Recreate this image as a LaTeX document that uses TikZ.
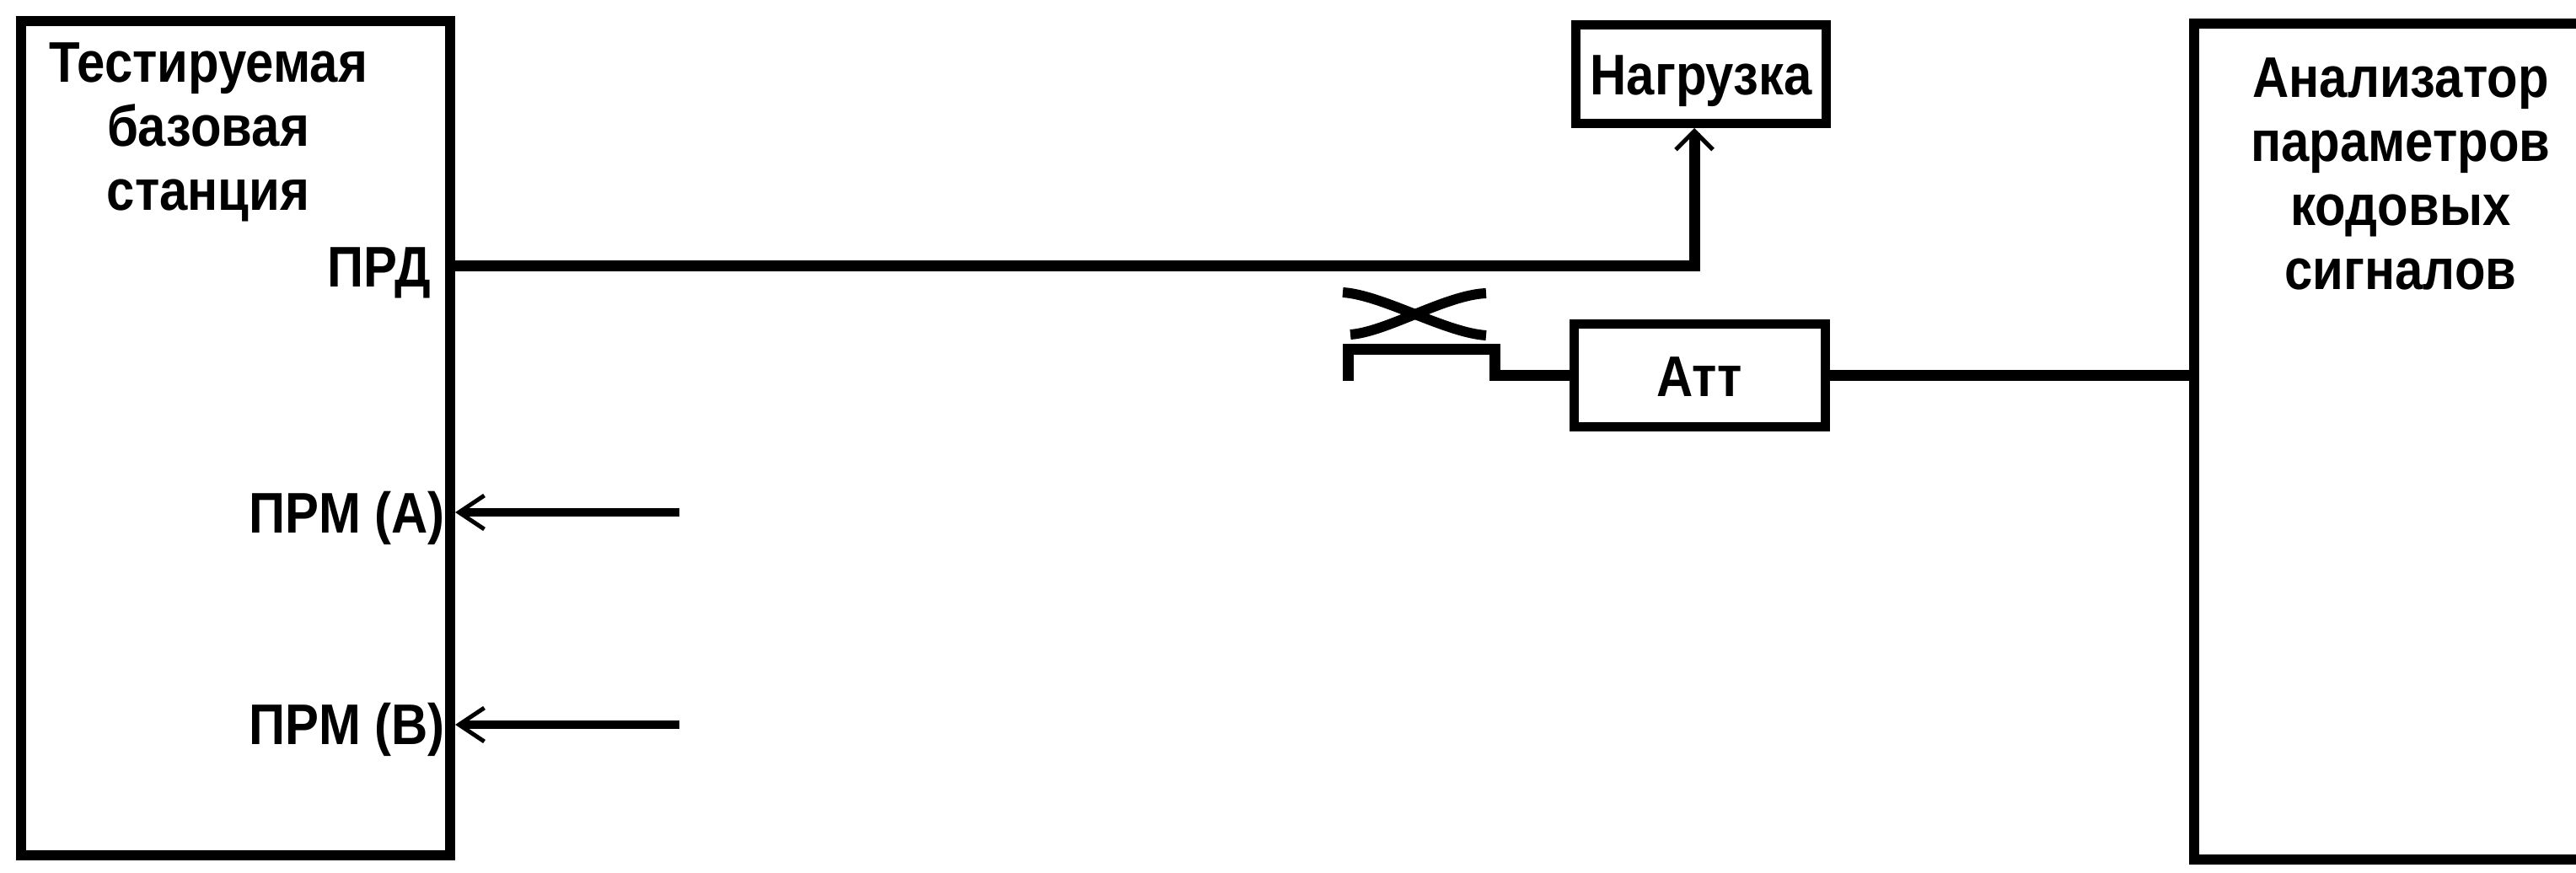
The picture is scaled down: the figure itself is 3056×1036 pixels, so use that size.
\documentclass[tikz,border=0pt]{standalone}
\usepackage{fontspec}
\setmainfont[FakeStretch=0.88]{Liberation Sans}
\usetikzlibrary{arrows.meta}
\begin{document}
\begin{tikzpicture}[x=0.5pt,y=-0.5pt,
  every node/.style={font=\bfseries\fontsize{34pt}{38pt}\selectfont, inner sep=0pt},
  blk/.style={draw, line width=6pt, rectangle},
  smallblk/.style={draw, line width=5.5pt, rectangle, text height=24.5pt, text depth=0pt},
  mainline/.style={line width=6.5pt},
  rxline/.style={line width=5pt, -{Straight Barb[length=15pt,width=20pt,line width=2.5pt]}},
  lbl/.style={align=center}
]
\fill[white] (0,0) rectangle (3056,1036);
\useasboundingbox (0,0) rectangle (3056,1036);
\clip (0,0) rectangle (3056,1036);

% blocks
\node[blk, minimum width=254.5pt, minimum height=495pt] (bs) at (279.5,520) {};
\node[blk, minimum width=258.5pt, minimum height=496pt] (an) at (2861.5,524) {};
\node[smallblk, minimum width=148.5pt, minimum height=58.5pt] (load) at (2018,88) {Нагрузка};
\node[smallblk, minimum width=149pt, minimum height=61pt] (att) at (2016,446) {Атт};

% labels
\node[lbl, anchor=north] (bstxt) at (247,50) {Тестируемая\\базовая\\станция};
\node[anchor=base east] (prd) at (511,341) {ПРД};
\node[anchor=base east] (prma) at (528,633) {ПРМ (A)};
\node[anchor=base east] (prmb) at (528,883) {ПРМ (B)};
\node[lbl, anchor=north] (antxt) at (2848,68) {Анализатор\\параметров\\кодовых\\сигналов};

% helper coordinates
\coordinate (tap) at (2010,316);
\coordinate (ina) at (806,608);
\coordinate (inb) at (806,860);
\coordinate (cpl) at (1599,452);
\coordinate (bkl) at (1599,415);
\coordinate (bkr) at (1773,415);

% connectors
\draw[mainline, -{Straight Barb[length=11pt,width=22pt,line width=2.5pt]}]
  (bs.east |- tap) -- (tap) -- (tap |- load.south);
\draw[rxline] (ina) -- (ina -| bs.east);
\draw[rxline] (inb) -- (inb -| bs.east);

% directional coupler symbol
\draw[line width=6pt] (1593,347) .. controls (1640,350) and (1715,395) .. (1763,398);
\draw[line width=6pt] (1602,397) .. controls (1645,394) and (1715,350) .. (1763,348);

\draw[mainline] (cpl) -- (bkl) -- (bkr) -- (bkr |- att.west) -- (att.west);
\draw[mainline] (att.east) -- (att.east -| an.west);
\end{tikzpicture}
\end{document}
